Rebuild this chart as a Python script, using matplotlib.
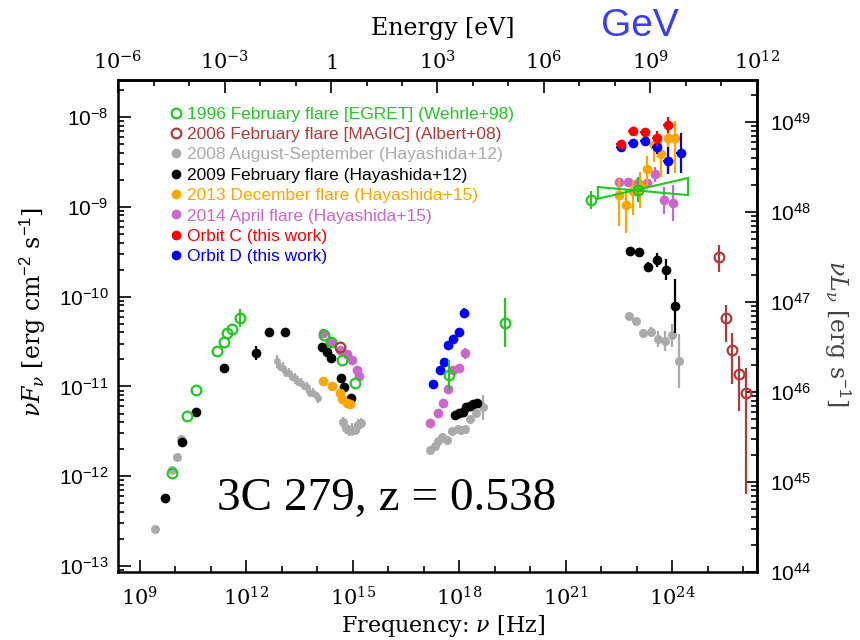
import numpy as np
import matplotlib
matplotlib.use('Agg')
import matplotlib.pyplot as plt
from matplotlib.ticker import FixedLocator, FuncFormatter, NullFormatter
from matplotlib.lines import Line2D
from matplotlib.patches import Polygon

plt.rcParams['mathtext.fontset'] = 'custom'
plt.rcParams['mathtext.rm'] = 'Liberation Sans'
plt.rcParams['mathtext.sf'] = 'DejaVu Serif'
plt.rcParams['mathtext.it'] = 'DejaVu Serif:italic'

HZ_PER_EV = 2.418e14
LUM_FACTOR = 10**57.06     # 4 pi d_L^2 for z = 0.538

# all values are log10(nu / Hz) and log10(nuFnu / erg cm-2 s-1), errors in dex
egret_nu = [9.90, 10.33, 10.58, 11.17, 11.37, 11.45, 11.59, 11.82,
            14.19, 14.38, 14.69, 15.06, 17.71, 19.28, 21.71, 23.03]
egret_f = [-11.96, -11.33, -11.04, -10.60, -10.50, -10.41, -10.36, -10.24,
           -10.43, -10.51, -10.70, -10.96, -10.87, -10.29, -8.93, -8.81]
egret_err = [0, 0, 0, 0, 0, 0, 0, 0.10, 0, 0, 0, 0, 0.17, 0.27, 0.10, 0.14]
# EGRET power-law butterfly: ends in nu, upper / lower flux at each end
egret_bt_nu = [21.90, 24.44]
egret_bt_hi = [-8.78, -8.68]
egret_bt_lo = [-8.91, -8.87]

magic_nu = [14.64, 25.31, 25.51, 25.68, 25.87, 26.07]
magic_f = [-10.56, -9.56, -10.24, -10.59, -10.86, -11.07]
magic_elo = [0, 0.17, 0.27, 0.38, 0.41, 1.13]
magic_ehi = [0, 0.14, 0.15, 0.19, 0.20, 0.28]

aug08_nu = [9.43, 9.90, 10.05, 10.16,
            12.86, 12.95, 13.03, 13.12, 13.20, 13.28, 13.37, 13.45, 13.54, 13.62,
            13.71, 13.79, 13.88, 13.96, 14.02,
            14.72, 14.81, 14.89, 14.97, 15.06, 15.14, 15.23,
            17.17, 17.31, 17.40, 17.51, 17.65, 17.79, 17.96, 18.05, 18.16, 18.30,
            18.47, 18.67,
            22.78, 22.98, 23.17, 23.40, 23.59, 23.79, 23.99, 24.19]
aug08_f = [-12.59, -11.93, -11.79, -11.58,
           -10.72, -10.78, -10.79, -10.85, -10.85, -10.90, -10.91, -10.95, -10.96, -11.00,
           -11.01, -11.07, -11.07, -11.10, -11.13,
           -11.40, -11.46, -11.49, -11.48, -11.48, -11.43, -11.41,
           -11.71, -11.66, -11.61, -11.56, -11.60, -11.50, -11.47, -11.49, -11.47, -11.36,
           -11.29, -11.23,
           -10.22, -10.27, -10.41, -10.39, -10.47, -10.49, -10.43, -10.72]
aug08_err = [0, 0, 0, 0,
             0.07, 0.04, 0.06, 0.04, 0.05, 0.04, 0.06, 0.04, 0.05, 0.04,
             0.06, 0.04, 0.05, 0.04, 0.05,
             0.06, 0.07, 0.06, 0.07, 0.06, 0.07, 0.06,
             0.02, 0.02, 0.02, 0.02, 0.02, 0.02, 0.02, 0.02, 0.02, 0.02,
             0.03, 0.14,
             0.03, 0.03, 0.05, 0.05, 0.09, 0.11, 0.13, 0.30]

feb09_nu = [9.71, 10.19, 10.58, 11.37, 12.27, 12.64, 13.09,
            14.13, 14.27, 14.38, 14.67, 14.75, 14.95,
            17.88, 17.99, 18.10, 18.19, 18.30, 18.38, 18.50,
            22.81, 23.06, 23.31, 23.57, 23.82, 24.07]
feb09_f = [-12.24, -11.62, -11.28, -10.80, -10.63, -10.39, -10.39,
           -10.56, -10.62, -10.68, -10.91, -11.01, -11.13,
           -11.32, -11.29, -11.28, -11.23, -11.22, -11.20, -11.18,
           -9.49, -9.50, -9.67, -9.59, -9.70, -10.10]
feb09_err = [0, 0, 0, 0, 0.08, 0, 0,
             0, 0, 0, 0, 0, 0,
             0.02, 0.02, 0.02, 0.02, 0.02, 0.02, 0.02,
             0.02, 0.02, 0.055, 0.08, 0.12, 0.30]

dec13_nu = [14.16, 14.41, 14.64, 14.69, 14.83, 14.92,
            22.50, 22.69, 22.89, 23.09, 23.28, 23.48, 23.68, 23.88, 24.07]
dec13_f = [-10.94, -10.99, -11.07, -11.14, -11.18, -11.20,
           -8.87, -8.98, -8.83, -8.77, -8.58, -8.31, -8.41, -8.23, -8.24]
dec13_elo = [0, 0, 0, 0, 0, 0, 0.34, 0.31, 0.26, 0.24, 0.20, 0.19, 0.26, 0.39, 0.38]
dec13_ehi = [0, 0, 0, 0, 0, 0, 0.18, 0.17, 0.13, 0.16, 0.15, 0.11, 0.15, 0.16, 0.20]

apr14_nu = [14.16, 14.35, 14.64, 14.83, 14.97, 15.12, 15.17,
            17.17, 17.40, 17.54, 17.68, 17.82, 17.99, 18.16,
            22.50, 22.75, 23.03, 23.28, 23.51, 23.76, 24.02]
apr14_f = [-10.40, -10.50, -10.59, -10.64, -10.70, -10.82, -10.88,
           -11.41, -11.30, -11.18, -11.03, -10.82, -10.80, -10.63,
           -8.72, -8.72, -8.73, -8.73, -8.64, -8.93, -8.96]
apr14_err = [0, 0, 0, 0, 0, 0, 0,
             0.02, 0.02, 0.02, 0.02, 0.02, 0.02, 0.06,
             0.03, 0.03, 0.03, 0.03, 0.08, 0.15, 0.20]

orbc_nu = [22.55, 22.89, 23.23, 23.57, 23.88]
orbc_f = [-8.30, -8.16, -8.17, -8.24, -8.09]
orbc_err = [0.03, 0.03, 0.03, 0.08, 0.09]
orbc_bin = [0.15, 0.15, 0.15, 0.15, 0.15]

orbd_nu = [17.26, 17.45, 17.57, 17.68, 17.82, 17.99, 18.13,
           22.55, 22.89, 23.23, 23.57, 23.88, 24.24]
orbd_f = [-10.97, -10.82, -10.73, -10.54, -10.47, -10.39, -10.18,
          -8.34, -8.29, -8.27, -8.33, -8.49, -8.40]
orbd_err = [0.02, 0.02, 0.02, 0.02, 0.02, 0.02, 0.05,
            0.03, 0.03, 0.04, 0.08, 0.15, 0.22]
orbd_bin = [0, 0, 0, 0, 0, 0, 0, 0.15, 0.15, 0.15, 0.15, 0.15, 0.15]

labels = ['1996 February flare [EGRET] (Wehrle+98)',
          '2006 February flare [MAGIC] (Albert+08)',
          '2008 August-September (Hayashida+12)',
          '2009 February flare (Hayashida+12)',
          '2013 December flare (Hayashida+15)',
          '2014 April flare (Hayashida+15)',
          'Orbit C (this work)',
          'Orbit D (this work)']
colors = ['#22c822', '#b03a3a', '#aaaaaa', 'black', '#ffa500', '#cc66cc', 'red', 'blue']


def draw(ax, lnu, lf, elo, ehi=None, color='k', hollow=False, ms=7, xbin=None, z=3):
    lnu = np.asarray(lnu, float)
    lf = np.asarray(lf, float)
    elo = np.asarray(elo, float)
    ehi = elo if ehi is None else np.asarray(ehi, float)
    y = 10**lf
    yerr = [y - 10**(lf - elo), 10**(lf + ehi) - y]
    xerr = None
    if xbin is not None:
        xb = np.asarray(xbin, float)
        x = 10**lnu
        xerr = [x - 10**(lnu - xb), 10**(lnu + xb) - x]
    ax.errorbar(10**lnu, y, yerr=yerr, xerr=xerr, fmt='o', ms=ms, color=color,
                mfc='none' if hollow else color, mec=color, mew=1.6 if hollow else 0,
                elinewidth=1.6, capsize=0, zorder=z)


fig = plt.figure(figsize=(8.6, 6.4), dpi=100)
ax = fig.add_axes([118/860, 1 - 572/640, 639/860, 492/640])
ax.set_xscale('log')
ax.set_yscale('log')
ax.set_xlim(10**8.3830, 10**26.3840)
ax.set_ylim(10**-13.065, 10**-7.589)

draw(ax, aug08_nu[:4], aug08_f[:4], aug08_err[:4], color=colors[2], ms=6.5, z=2)
draw(ax, aug08_nu[4:19], aug08_f[4:19], aug08_err[4:19], color=colors[2], ms=5, z=2)
draw(ax, aug08_nu[19:], aug08_f[19:], aug08_err[19:], color=colors[2], ms=6.5, z=2)
draw(ax, feb09_nu, feb09_f, feb09_err, color=colors[3], z=3)
draw(ax, apr14_nu, apr14_f, apr14_err, color=colors[5], z=4)
draw(ax, dec13_nu, dec13_f, dec13_elo, dec13_ehi, color=colors[4], z=5)
draw(ax, orbd_nu, orbd_f, orbd_err, color=colors[7], xbin=orbd_bin, z=6)
draw(ax, orbc_nu, orbc_f, orbc_err, color=colors[6], xbin=orbc_bin, z=7)
draw(ax, egret_nu, egret_f, egret_err, color=colors[0], hollow=True, z=8)
draw(ax, magic_nu, magic_f, magic_elo, magic_ehi, color=colors[1], hollow=True, z=8)

# butterfly of the EGRET power-law fit
bt = [(10**egret_bt_nu[0], 10**egret_bt_hi[0]), (10**egret_bt_nu[1], 10**egret_bt_lo[1]),
      (10**egret_bt_nu[1], 10**egret_bt_hi[1]), (10**egret_bt_nu[0], 10**egret_bt_lo[0])]
ax.add_patch(Polygon(bt, closed=True, fill=False, ec=colors[0], lw=1.5, zorder=8))

# axes styling
for s in ax.spines.values():
    s.set_linewidth(1.8)


def pow_label(v, pos, cmd='mathsf'):
    k = int(round(np.log10(v)))
    if k == 0:
        return r'$\%s{1}$' % cmd
    return r'$\%s{10^{%d}}$' % (cmd, k)


ax.xaxis.set_major_locator(FixedLocator([10.0**k for k in range(9, 27, 3)]))
ax.xaxis.set_minor_locator(FixedLocator([10.0**k for k in range(8, 27)]))
ax.xaxis.set_major_formatter(FuncFormatter(pow_label))
ax.xaxis.set_minor_formatter(NullFormatter())
ax.yaxis.set_major_locator(FixedLocator([10.0**k for k in range(-13, -7)]))
ax.yaxis.set_minor_locator(FixedLocator([m * 10.0**k for k in range(-14, -7) for m in range(2, 10)]))
ax.yaxis.set_major_formatter(FuncFormatter(lambda v, p: pow_label(v, p, 'mathrm')))
ax.yaxis.set_minor_formatter(NullFormatter())
ax.tick_params(which='both', direction='in', width=1.2, top=False, right=False)
ax.tick_params(which='major', length=9)
ax.tick_params(which='minor', length=4.5)
ax.tick_params(axis='x', which='major', labelsize=15, pad=10)
ax.tick_params(axis='y', which='major', labelsize=15, pad=7)

top = ax.secondary_xaxis('top', functions=(lambda nu: nu / HZ_PER_EV, lambda e: e * HZ_PER_EV))
top.xaxis.set_major_locator(FixedLocator([10.0**k for k in range(-6, 13, 3)]))
top.xaxis.set_minor_locator(FixedLocator([10.0**k for k in range(-6, 13)]))
top.xaxis.set_major_formatter(FuncFormatter(pow_label))
top.xaxis.set_minor_formatter(NullFormatter())
top.tick_params(which='both', direction='in', width=1.2)
top.tick_params(which='major', length=9, labelsize=15, pad=5)
top.tick_params(which='minor', length=4.5)
top.spines['top'].set_linewidth(1.8)

right = ax.secondary_yaxis('right', functions=(lambda f: f * LUM_FACTOR, lambda l: l / LUM_FACTOR))
right.yaxis.set_major_locator(FixedLocator([10.0**k for k in range(44, 50)]))
right.yaxis.set_minor_locator(FixedLocator([m * 10.0**k for k in range(43, 50) for m in range(2, 10)]))
right.yaxis.set_major_formatter(FuncFormatter(lambda v, p: pow_label(v, p, 'mathrm')))
right.yaxis.set_minor_formatter(NullFormatter())
right.tick_params(which='both', direction='in', width=1.2)
right.tick_params(which='major', length=9, labelsize=15, pad=9)
right.tick_params(which='minor', length=4.5)
right.spines['right'].set_linewidth(1.8)

# axis titles
fig.text(443/860, 1 - 28/640, 'Energy [eV]', family='DejaVu Serif', fontsize=17,
         ha='center', va='center')
fig.text(640/860, 1 - 26/640, 'GeV', family='Liberation Sans', fontsize=28,
         color='#3c3cf5', ha='center', va='center')
fig.text(443/860, 1 - 626/640, r'Frequency: $\nu$ [Hz]', family='DejaVu Serif', fontsize=16,
         ha='center', va='center')
fig.text(33/860, 1 - 312/640, r'$\nu F_\nu$ [erg cm$^{-2}$ s$^{-1}$]', family='DejaVu Serif',
         fontsize=17, rotation=90, ha='center', va='center')
fig.text(837/860, 1 - 333/640, r'$\nu L_\nu$ [erg s$^{-1}$]', family='DejaVu Serif',
         fontsize=17, rotation=-90, ha='center', va='center', color='#444444')
fig.text(217/860, 1 - 510/640, '3C 279, z = 0.538', family='Liberation Serif', fontsize=34,
         ha='left', va='baseline')

handles = []
for i, c in enumerate(colors):
    hollow = i < 2
    handles.append(Line2D([], [], ls='none', marker='o', ms=7, mec=c,
                          mfc='none' if hollow else c, mew=1.6 if hollow else 0))
ax.legend(handles, labels, loc='upper left', bbox_to_anchor=(0.083, 0.946), frameon=False,
          prop={'family': 'Liberation Sans', 'size': 12.5}, labelcolor=colors,
          handlelength=0.6, handletextpad=0.3, labelspacing=0.3, borderpad=0,
          borderaxespad=0)

fig.savefig('out.png', dpi=100)
